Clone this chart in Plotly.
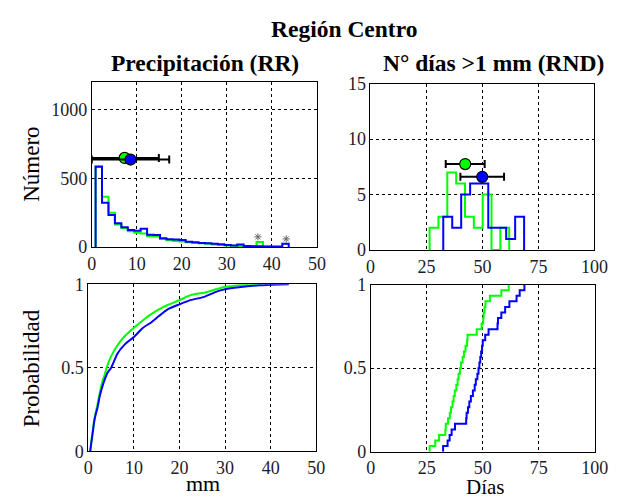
import numpy as np
import plotly.graph_objects as go

# ---------------- data ----------------
# Precipitation histogram (RR): bin edges (mm) and counts
rr_edges = [0.85, 2.28, 3.71, 5.14, 6.57, 8.0, 9.43, 10.86, 12.29, 13.72, 15.15, 16.58,
            18.01, 19.44, 20.87, 22.3, 23.73, 25.16, 26.59, 28.02, 29.45, 30.88, 32.31,
            33.74, 35.17, 36.6, 38.03, 39.46, 40.89, 42.32, 43.75]
rr_counts_blue = [585, 324, 235, 175, 145, 125, 120, 135, 90, 88, 65, 58, 55, 52, 40, 35,
                  30, 28, 25, 22, 16, 12, 20, 8, 6, 6, 5, 4, 5, 25]
rr_counts_green = [590, 368, 250, 165, 140, 115, 105, 100, 80, 77, 60, 50, 45, 42, 35, 30,
                   28, 25, 20, 15, 12, 10, 8, 8, 6, 37, 4]
rr_star_x = [36.9, 43.2]
rr_star_y = [75, 60]

# mean +/- std markers (RR)
rr_mean = {"green": 7.3, "blue": 8.6}
rr_std = {"green": 7.6, "blue": 8.6}
rr_mark_y = {"green": 650, "blue": 638}

# Number of rain days histogram (RND)
rnd_edges_green = [26.4, 30.35, 34.3, 38.25, 42.2, 46.15, 50.1, 54.05, 58.0, 61.95]
rnd_counts_green = [2, 3, 7, 6, 3, 2, 5, 0, 2]
rnd_edges_blue = [32.5, 36.5, 40.5, 44.5, 48.6, 52.6, 56.6, 60.6, 64.6, 68.6]
rnd_counts_blue = [3, 2, 5, 6, 6, 2, 2, 1, 3]
rnd_mean = {"green": 42.3, "blue": 49.9}
rnd_std = {"green": 8.7, "blue": 9.75}
rnd_mark_y = {"green": 7.75, "blue": 6.6}

# Empirical CDF of precipitation (mm, probability)
rr_cdf_x_green = [0.4, 0.7, 1.0, 1.3, 1.6, 2.0, 2.5, 3.1, 3.6, 4.0, 5.0, 6.4, 8.0, 10, 12,
                  13.7, 15.5, 17.4, 20, 22.4, 25.4, 28, 30, 32, 34, 38]
rr_cdf_p_green = [0, 0.07, 0.13, 0.19, 0.23, 0.28, 0.35, 0.42, 0.46, 0.50, 0.57, 0.635,
                  0.69, 0.74, 0.785, 0.82, 0.85, 0.876, 0.905, 0.935, 0.95, 0.97, 0.985,
                  0.992, 0.997, 1.0]
rr_cdf_x_blue = [0.4, 0.7, 1.0, 1.3, 1.6, 2.0, 2.5, 3.1, 3.6, 4.2, 5.0, 6.4, 8.0, 10, 12,
                 13.7, 15.5, 17.4, 20, 22.4, 25.4, 28, 30, 33, 37.6, 40, 44]
rr_cdf_p_blue = [0, 0.06, 0.12, 0.18, 0.22, 0.26, 0.33, 0.39, 0.43, 0.47, 0.50, 0.586,
                 0.64, 0.685, 0.74, 0.77, 0.81, 0.85, 0.88, 0.905, 0.925, 0.955, 0.97,
                 0.982, 0.994, 0.997, 1.0]

# Sorted yearly values of rain days (for empirical CDF)
rnd_values_green = [26.3, 28.8, 30.5, 33.3, 33.5, 34.5, 35.3, 35.8, 36.5, 37.0, 37.5, 38.2,
                    38.8, 39.2, 39.8, 40.3, 41.0, 41.6, 42.3, 43.0, 43.2, 47.3, 49.5, 50.2,
                    50.4, 50.8, 51.2, 53.2, 58.3, 61.6]
rnd_values_blue = [32.3, 34.3, 35.2, 36.1, 37.6, 42.6, 42.8, 43.4, 44.0, 44.7, 45.6, 46.4,
                   46.9, 47.6, 48.1, 48.5, 48.9, 49.3, 49.7, 50.0, 51.1, 52.6, 56.6, 56.8,
                   58.3, 60.0, 61.9, 65.1, 66.5, 68.6]

GREEN = "#00ff00"
BLUE = "#0000ff"
SERIF = "Liberation Serif"
TICKCOL = "#1c1c28"

W, H = 622, 502


def stairs(edges, counts):
    x = [edges[0]] + list(edges)
    y = [0] + list(counts) + [0]
    return x, y


def ecdf(vals):
    v = sorted(vals)
    n = len(v)
    x = [v[0]] + v
    y = [0] + [(i + 1) / n for i in range(n)]
    return x, y


fig = go.Figure()

# ---- top-left: RR histogram ----
for edges, counts, col in [(rr_edges, rr_counts_green, GREEN), (rr_edges, rr_counts_blue, BLUE)]:
    x, y = stairs(edges[:len(counts) + 1], counts)
    fig.add_trace(go.Scatter(x=x, y=y, mode="lines", line=dict(color=col, width=2, shape="hv"),
                             xaxis="x", yaxis="y", showlegend=False))
fig.add_trace(go.Scatter(x=rr_star_x, y=rr_star_y, mode="markers",
                         marker=dict(symbol="asterisk-open", size=6, color="#666666",
                                     line=dict(color="#666666", width=1)),
                         xaxis="x", yaxis="y", showlegend=False))
for key, col in [("green", GREEN), ("blue", BLUE)]:
    fig.add_trace(go.Scatter(x=[rr_mean[key]], y=[rr_mark_y[key]], mode="markers",
                             marker=dict(color=col, size=11, line=dict(color="black", width=1.2)),
                             error_x=dict(type="data", array=[rr_std[key]], color="black",
                                          thickness=2, width=4),
                             xaxis="x", yaxis="y", showlegend=False))

# ---- top-right: RND histogram ----
for edges, counts, col in [(rnd_edges_green, rnd_counts_green, GREEN), (rnd_edges_blue, rnd_counts_blue, BLUE)]:
    x, y = stairs(edges, counts)
    fig.add_trace(go.Scatter(x=x, y=y, mode="lines", line=dict(color=col, width=2, shape="hv"),
                             xaxis="x2", yaxis="y2", showlegend=False))
for key, col in [("green", GREEN), ("blue", BLUE)]:
    fig.add_trace(go.Scatter(x=[rnd_mean[key]], y=[rnd_mark_y[key]], mode="markers",
                             marker=dict(color=col, size=11, line=dict(color="black", width=1.2)),
                             error_x=dict(type="data", array=[rnd_std[key]], color="black",
                                          thickness=2, width=4),
                             xaxis="x2", yaxis="y2", showlegend=False))

# ---- bottom-left: RR CDF ----
fig.add_trace(go.Scatter(x=rr_cdf_x_green, y=rr_cdf_p_green, mode="lines",
                         line=dict(color=GREEN, width=2, shape="spline", smoothing=0.6),
                         xaxis="x3", yaxis="y3", showlegend=False))
fig.add_trace(go.Scatter(x=rr_cdf_x_blue, y=rr_cdf_p_blue, mode="lines",
                         line=dict(color=BLUE, width=2, shape="spline", smoothing=0.6),
                         xaxis="x3", yaxis="y3", showlegend=False))

# ---- bottom-right: RND CDF ----
for vals, col in [(rnd_values_green, GREEN), (rnd_values_blue, BLUE)]:
    x, y = ecdf(vals)
    fig.add_trace(go.Scatter(x=x, y=y, mode="lines", line=dict(color=col, width=2, shape="hv"),
                             xaxis="x4", yaxis="y4", showlegend=False))


def ax(domain, rng, dtick, anchor, tickvals=None):
    d = dict(domain=domain, range=rng, anchor=anchor, showline=True, mirror=True,
             linecolor="black", linewidth=1, showgrid=True, gridcolor="black",
             gridwidth=1, griddash="3px,3px", zeroline=False, ticks="",
             tickfont=dict(family=SERIF, size=18, color=TICKCOL))
    if tickvals is not None:
        d["tickmode"] = "array"
        d["tickvals"] = tickvals
    else:
        d["dtick"] = dtick
        d["tick0"] = 0
    return d


def fx(px):
    return px / W


def fy(py):
    return 1 - py / H


layout = dict(
    width=W, height=H, margin=dict(l=0, r=0, t=0, b=0),
    paper_bgcolor="white", plot_bgcolor="white",
    xaxis=ax([fx(89.5), fx(321.7)], [0, 50], 10, "y"),
    yaxis=ax([fy(247), fy(75.4)], [0, 1200], None, "x", tickvals=[0, 500, 1000]),
    xaxis2=ax([fx(377), fx(608)], [0, 100], 25, "y2"),
    yaxis2=ax([fy(250), fy(76.7)], [0, 15], 5, "x2"),
    xaxis3=ax([fx(86), fx(321)], [0, 50], 10, "y3"),
    yaxis3=ax([fy(459.5), fy(285.7)], [0, 1], 0.5, "x3", tickvals=[0, 0.5, 1]),
    xaxis4=ax([fx(377.3), fx(608.3)], [0, 100], 25, "y4"),
    yaxis4=ax([fy(460), fy(286)], [0, 1], 0.5, "x4", tickvals=[0, 0.5, 1]),
)
fig.update_layout(**layout)


def ann(text, x, y, size, bold=False, angle=0):
    fig.add_annotation(text=f"<b>{text}</b>" if bold else text, x=fx(x), y=fy(y),
                       xref="paper", yref="paper", showarrow=False, textangle=angle,
                       xanchor="center", yanchor="middle",
                       font=dict(family=SERIF, size=size, color="black"))


ann("Región Centro", 350, 20, 23.5, bold=True)
ann("Precipitación (RR)", 206, 55, 23.5, bold=True)
ann("N° días >1 mm (RND)", 504, 55, 23.5, bold=True)
ann("Número", 27, 161, 23, angle=-90)
ann("Probabilidad", 27, 373, 23, angle=-90)
ann("mm", 204, 493, 22)
ann("Días", 496, 497, 21)

fig.write_html("out.html")
